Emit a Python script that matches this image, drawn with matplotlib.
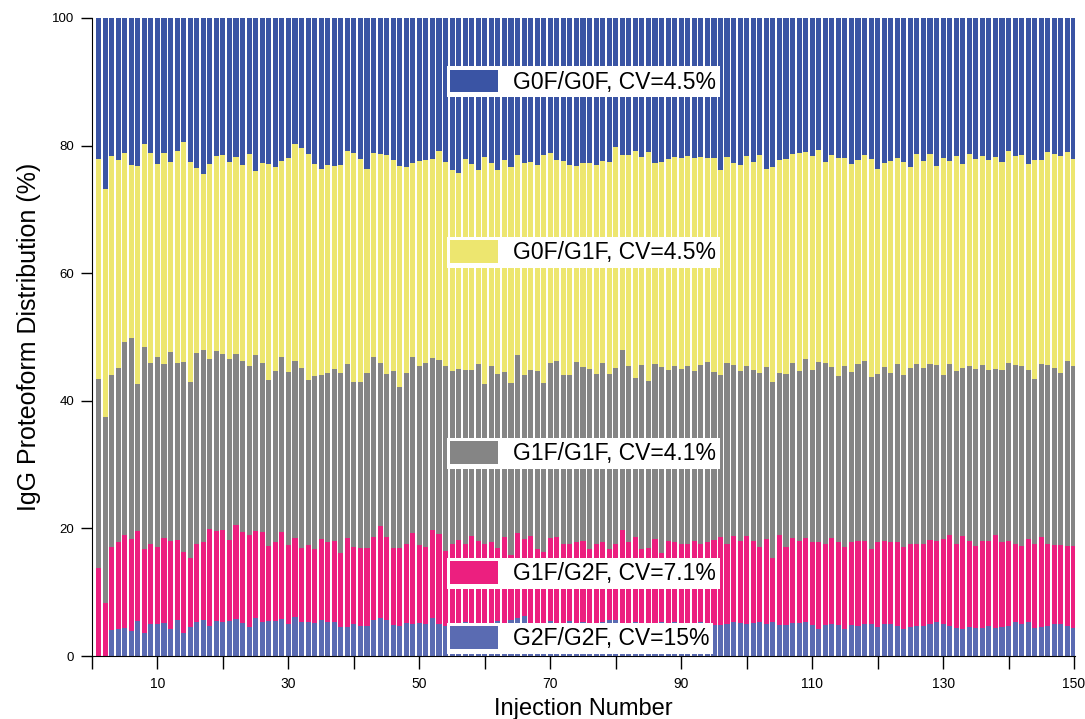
import numpy as np
from matplotlib import pyplot as plt
from matplotlib.patches import Patch

plt.rcParams['font.family'] = ['Liberation Sans', 'DejaVu Sans']

# Values (percent). Boundaries are cumulative tops of each stack.
injection = np.arange(1, 151)

g2f_g2f = [0, 0, 4.1, 4.3, 4.4, 3.9, 5.5, 3.6, 5.0, 5.0, 5.1, 4.3, 5.7, 3.6, 4.6, 5.4, 5.6, 4.7, 5.5, 5.3,
           5.5, 5.8, 5.2, 4.6, 6.0, 5.3, 5.5, 5.5, 5.8, 5.0, 6.1, 5.3, 5.3, 5.2, 5.6, 5.4, 5.3, 4.6, 4.6, 5.0,
           4.7, 4.7, 5.6, 5.9, 5.6, 4.8, 4.7, 5.1, 5.0, 5.2,
           5.0, 6.0, 5.0, 4.7, 4.9, 5.0, 5.3, 4.8, 4.8, 5.0, 5.0, 5.5, 5.0, 5.7, 6.0, 6.2, 4.9, 4.9, 5.2, 5.5,
           5.0, 5.0, 5.5, 4.8, 5.3, 4.9, 5.0, 5.3, 5.7, 5.7, 4.8, 4.7, 5.3, 4.9, 4.8, 4.9, 5.3, 4.8, 5.3, 5.0,
           4.9, 5.2, 5.3, 5.2, 4.9, 4.8, 5.0, 5.3, 5.2, 5.0,
           5.2, 5.3, 5.0, 5.3, 4.9, 4.9, 5.1, 5.2, 5.3, 4.9, 4.2, 4.9, 5.0, 4.9, 4.2, 4.9, 4.7, 5.0, 5.0, 4.5,
           5.0, 5.0, 4.7, 4.2, 4.5, 4.7, 4.7, 5.0, 5.3, 5.0, 4.7, 4.4, 4.2, 4.5, 4.4, 4.4, 4.7, 4.4, 4.5, 4.7,
           5.3, 5.0, 5.3, 4.4, 4.5, 4.7, 5.0, 5.0, 4.7, 4.4]

top_g1f_g2f = [13.8, 8.3, 17.1, 17.8, 19.0, 18.4, 19.6, 16.8, 17.6, 17.1, 18.5, 18.1, 18.2, 16.3, 15.3, 17.6,
               17.9, 19.9, 19.6, 19.7, 18.2, 20.6, 19.5, 19.0, 19.6, 19.4, 17.3, 17.8, 19.4, 17.4, 18.5, 17.0,
               17.4, 16.8, 18.3, 17.8, 18.1, 16.2, 18.5, 17.1, 16.9, 16.9, 18.6, 20.3, 18.7, 17.0, 16.9, 17.5,
               19.3, 17.4,
               17.1, 19.8, 19.1, 16.5, 17.6, 18.2, 17.6, 18.8, 18.1, 17.6, 17.8, 16.9, 18.7, 15.9, 19.3, 18.3,
               18.8, 16.7, 16.3, 18.5, 18.7, 17.5, 17.5, 17.8, 18.1, 16.8, 17.5, 17.9, 16.8, 17.6, 19.8, 17.8,
               18.7, 16.8, 17.0, 18.4, 16.2, 18.1, 17.8, 17.6, 17.6, 18.1, 17.5, 17.8, 18.2, 18.7, 17.6, 18.8,
               18.1, 18.8,
               18.1, 17.1, 18.3, 15.3, 18.9, 17.1, 18.5, 18.1, 18.5, 17.8, 17.8, 17.5, 18.5, 17.8, 17.1, 17.9,
               18.1, 18.1, 16.7, 17.8, 18.0, 17.9, 17.8, 17.1, 17.6, 17.5, 17.5, 18.2, 18.1, 18.3, 19.0, 17.5,
               18.8, 18.1, 17.3, 18.1, 18.0, 19.0, 17.9, 18.1, 17.5, 17.2, 18.4, 17.6, 18.7, 17.6, 17.4, 17.4,
               17.3, 17.3]

top_g1f_g1f = [43.4, 37.5, 44.1, 45.1, 49.2, 49.8, 42.6, 48.5, 46.0, 46.8, 45.8, 47.6, 45.9, 46.1, 43.0, 47.5,
               48.0, 46.6, 47.8, 47.4, 46.5, 47.3, 46.3, 45.5, 47.1, 46.0, 43.2, 44.7, 46.9, 44.5, 46.2, 45.1,
               43.2, 43.9, 44.1, 44.3, 45.0, 44.4, 45.8, 43.0, 43.0, 44.4, 46.9, 46.0, 44.2, 44.7, 42.2, 44.4,
               46.8, 45.5,
               46.0, 46.7, 46.4, 45.4, 44.7, 45.0, 44.9, 44.8, 45.8, 42.6, 45.5, 44.2, 44.5, 42.8, 47.2, 44.1,
               44.9, 44.7, 42.8, 45.9, 46.3, 44.1, 44.1, 46.1, 45.3, 45.0, 44.2, 46.0, 44.2, 45.2, 48.0, 45.5,
               43.6, 45.6, 43.1, 45.8, 45.3, 44.9, 45.4, 45.0, 45.5, 44.7, 45.6, 46.1, 44.5, 44.0, 45.9, 45.6,
               44.6, 45.5,
               44.9, 44.4, 45.3, 43.0, 44.4, 44.2, 46.0, 44.6, 46.5, 44.9, 46.1, 45.9, 45.3, 43.9, 45.4, 44.5,
               45.7, 46.3, 43.8, 44.2, 45.3, 44.4, 45.7, 44.0, 45.1, 45.7, 45.2, 45.7, 45.6, 44.1, 45.8, 44.6,
               45.2, 45.5, 45.0, 45.6, 44.9, 45.0, 44.9, 46.0, 45.6, 45.4, 44.8, 43.4, 45.7, 45.6, 45.1, 44.4,
               46.3, 45.4]

top_g0f_g1f = [77.9, 73.2, 78.4, 77.8, 78.8, 76.9, 76.8, 80.2, 78.8, 77.1, 78.8, 77.4, 79.1, 80.5, 77.4, 76.5,
               75.6, 77.1, 78.4, 78.5, 77.4, 78.2, 76.9, 78.7, 76.0, 77.2, 77.1, 76.6, 77.6, 78.1, 80.2, 79.6,
               78.7, 77.1, 76.3, 77.0, 76.8, 77.0, 79.1, 78.8, 77.9, 76.3, 78.8, 78.7, 78.5, 77.8, 76.8, 76.7,
               77.3, 77.6,
               77.7, 77.9, 79.1, 77.5, 76.1, 75.7, 77.9, 77.1, 76.1, 78.2, 77.3, 76.2, 77.7, 76.7, 78.5, 77.2,
               77.5, 77.0, 78.5, 78.8, 77.7, 77.6, 77.0, 76.8, 77.2, 77.2, 76.9, 77.6, 77.5, 79.7, 78.6, 78.5,
               79.1, 78.2, 79.0, 77.3, 77.4, 77.9, 78.2, 78.1, 78.3, 78.0, 78.2, 78.1, 78.0, 76.2, 78.2, 77.3,
               76.9, 78.3,
               77.4, 78.5, 76.3, 76.6, 77.8, 77.9, 78.7, 78.9, 79.0, 78.4, 79.3, 77.5, 78.6, 78.1, 78.1, 77.1,
               77.8, 78.6, 77.9, 76.3, 77.2, 77.6, 78.1, 77.5, 76.6, 78.7, 77.6, 78.7, 76.8, 78.0, 77.6, 78.3,
               77.1, 78.7, 77.9, 78.4, 77.7, 78.2, 77.4, 79.1, 78.3, 78.5, 77.1, 77.8, 77.8, 79.0, 78.7, 78.3,
               79.0, 77.9]

labels = ['G0F/G0F, CV=4.5%', 'G0F/G1F, CV=4.5%', 'G1F/G1F, CV=4.1%', 'G1F/G2F, CV=7.1%', 'G2F/G2F, CV=15%']
colors = ['#3a54a4', '#ede66f', '#858585', '#ec1f7f', '#5a6bb2']
label_y = [90, 63.3, 31.8, 13.0, 2.8]

# stack boundaries, bottom to top
bounds = [np.zeros(150), np.array(g2f_g2f), np.array(top_g1f_g2f), np.array(top_g1f_g1f),
          np.array(top_g0f_g1f), np.full(150, 100.0)]

fig = plt.figure(figsize=(10.85, 7.19), dpi=100)
ax = fig.add_axes([0.0848, 0.0876, 0.906, 0.8874])

# colors/labels go top -> bottom
for i in range(5):
    lo = bounds[4 - i]
    hi = bounds[5 - i]
    ax.bar(injection, hi - lo, bottom=lo, width=0.78, color=colors[i], linewidth=0)

ax.set_xlim(0, 150.15)
ax.set_ylim(0, 100)
ax.spines['top'].set_visible(False)
ax.spines['right'].set_visible(False)

ax.set_xticks(np.arange(0, 151, 10))
ax.set_xticklabels(['' if t % 20 == 0 else str(t) for t in range(0, 151, 10)])
ax.set_yticks(np.arange(0, 101, 20))
ax.tick_params(axis='x', direction='out', length=9, width=1, labelsize=10, pad=6)
ax.tick_params(axis='y', direction='out', length=8, width=1, labelsize=9.5, pad=5)

ax.set_xlabel('Injection Number', fontsize=17, labelpad=5)
ax.set_ylabel('IgG Proteoform Distribution (%)', fontsize=18, labelpad=8)

# one boxed label per segment
for i in range(5):
    leg = ax.legend(handles=[Patch(facecolor=colors[i], edgecolor='none')], labels=[labels[i]],
                    loc='center left', bbox_to_anchor=(54.2, label_y[i]), bbox_transform=ax.transData,
                    fontsize=16.5, frameon=True, fancybox=False, framealpha=1, edgecolor='none',
                    borderpad=0.15, borderaxespad=0, handlelength=2.1, handleheight=1.15, handletextpad=0.65)
    ax.add_artist(leg)

fig.savefig('out.png', dpi=100)
